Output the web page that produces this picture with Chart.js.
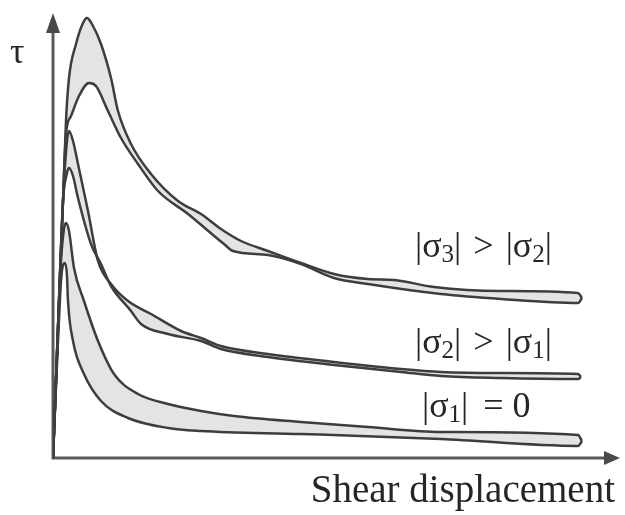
<!DOCTYPE html>
<html>
<head>
<meta charset="utf-8">
<script src="https://cdn.jsdelivr.net/npm/chart.js@4/dist/chart.umd.min.js"></script>
<style>
  body { margin: 0; background: #fff; }
  #wrap { width: 625px; height: 515px; }
</style>
</head>
<body>
<div id="wrap"><canvas id="myChart" width="625" height="515"></canvas></div>
<script>
// curve data: [displacement, tau] pairs

var sigma3Upper = [[0,0],[6,157],[10,257],[13,337],[16,380],[23,414],[30,435],[34,440],[40,432],[48,414],
    [58,380],[65,347],[78,314],[98,284],[125,257],[148,244],[168,229],[188,217],[215,207],[248,195],
    [281,184],[315,179],[341,178],[381,171],[448,167],[525,165],[529,160]];
var sigma3Lower = [[0,0],[6,157],[10,257],[13,324],[18,342],[26,362],[36,375],[43,372],[55,347],[68,320],
    [85,294],[105,267],[135,244],[171,214],[180,207],[215,203],[248,194],[281,180],[315,174],[388,164],
    [448,159],[525,155],[529,160]];

var sigma2Upper = [[0,0],[6,157],[10,257],[14,317],[16,327],[20,317],[25,294],[35,247],[45,197],[58,174],
    [75,157],[98,144],[128,127],[148,120],[168,112],[215,104],[281,96],[348,89],[388,86],[448,85],
    [525,84],[528,81]];
var sigma2Lower = [[0,0],[6,157],[10,257],[14,285],[16,290],[20,282],[25,260],[38,214],[48,194],[58,172],
    [78,147],[88,134],[115,124],[148,117],[168,109],[215,101],[281,93],[348,86],[388,82],[448,80],
    [525,79],[528,81]];

var sigma1Upper = [[0,0],[5,127],[8,197],[11,229],[13,235],[16,227],[21,190],[31,157],[45,117],[61,84],
    [85,64],[115,54],[148,47],[181,42],[248,36],[315,31],[388,26],[525,23],[529,17]];
var sigma1Lower = [[0,0],[5,117],[8,177],[10,193],[12,195],[14,182],[15,157],[20,117],[31,84],[48,57],
    [75,40],[115,30],[148,27],[248,24],[388,19],[525,12],[529,17]];

// labels, anchored in data units (left / baseline)
var labelParts = [
    [["|σ"], ["3", 1], ["|\u200A > \u200A|σ"], ["2", 1], ["|"]],
    [["|σ"], ["2", 1], ["|\u200A > \u200A|σ"], ["1", 1], ["|"]],
    [["|σ"], ["1", 1], ["|\u2006 = 0"]]
];
var labelAnchors = [[362, 201], [362, 105], [369, 41]];
var xTitle = "Shear displacement";
var yTitle = "τ";

var xMax = 567;
var yMax = 445;

var lineColor = "#3d3d3d";
var bandColor = "#e4e4e4";
var serif = "'Liberation Serif', 'Times New Roman', serif";

function toPoints(arr)
{
    return arr.map(function(p) { return { x: p[0], y: p[1] }; });
}

function band(upper, lower)
{
    return [
        { data: toPoints(upper), fill: "+1", backgroundColor: bandColor },
        { data: toPoints(lower), fill: false }
    ];
}

// axes with arrows + text, drawn through the scales
var extras = {
    id: "extras",
    beforeDraw: function(chart)
    {
        var ctx = chart.ctx;
        var xs = chart.scales.x, ys = chart.scales.y;
        var x0 = xs.getPixelForValue(0), y0 = ys.getPixelForValue(0);
        var xEnd = xs.getPixelForValue(xMax), yEnd = ys.getPixelForValue(yMax);

        ctx.save();
        ctx.strokeStyle = "#5a5a5a";
        ctx.fillStyle = "#4a4a4a";
        ctx.lineWidth = 3;
        ctx.beginPath();
        ctx.moveTo(x0, yEnd + 16);
        ctx.lineTo(x0, y0);
        ctx.lineTo(xEnd - 12, y0);
        ctx.stroke();

        ctx.beginPath();
        ctx.moveTo(x0, yEnd);
        ctx.lineTo(x0 - 7, yEnd + 20);
        ctx.lineTo(x0 + 7, yEnd + 20);
        ctx.closePath();
        ctx.fill();

        ctx.beginPath();
        ctx.moveTo(xEnd, y0);
        ctx.lineTo(xEnd - 16, y0 - 7);
        ctx.lineTo(xEnd - 16, y0 + 7);
        ctx.closePath();
        ctx.fill();
        ctx.restore();
    },
    afterDraw: function(chart)
    {
        var ctx = chart.ctx;
        var xs = chart.scales.x, ys = chart.scales.y;
        ctx.save();
        ctx.fillStyle = "#262626";
        ctx.textBaseline = "alphabetic";

        labelParts.forEach(function(parts, i) {
            var x = xs.getPixelForValue(labelAnchors[i][0]);
            var y = ys.getPixelForValue(labelAnchors[i][1]);
            parts.forEach(function(p) {
                ctx.font = p[1] ? "25px " + serif : "36px " + serif;
                ctx.fillText(p[0], x, y + (p[1] ? 5 : 0));
                x += ctx.measureText(p[0]).width;
            });
        });

        ctx.font = "39px " + serif;
        ctx.textAlign = "right";
        ctx.fillText(xTitle, xs.getPixelForValue(562), ys.getPixelForValue(-44));

        ctx.font = "36px " + serif;
        ctx.textAlign = "left";
        ctx.fillText(yTitle, xs.getPixelForValue(-43), ys.getPixelForValue(395));
        ctx.restore();
    }
};

var ctx1 = document.getElementById("myChart");
var myChart = new Chart(ctx1.getContext("2d"), {
    type: "line",
    data: {
        datasets: [].concat(
            band(sigma3Upper, sigma3Lower),
            band(sigma2Upper, sigma2Lower),
            band(sigma1Upper, sigma1Lower)
        )
    },
    options: {
        responsive: false,
        animation: false,
        layout: { padding: { left: 53, right: 5, top: 13, bottom: 57 } },
        elements: {
            line: { borderColor: lineColor, borderWidth: 2.5, cubicInterpolationMode: "monotone" },
            point: { radius: 0 }
        },
        plugins: {
            legend: { display: false },
            tooltip: { enabled: false },
            filler: { drawTime: "beforeDatasetsDraw" }
        },
        scales: {
            x: { type: "linear", min: 0, max: xMax, display: false },
            y: { type: "linear", min: 0, max: yMax, display: false }
        }
    },
    plugins: [extras]
});
</script>
</body>
</html>
